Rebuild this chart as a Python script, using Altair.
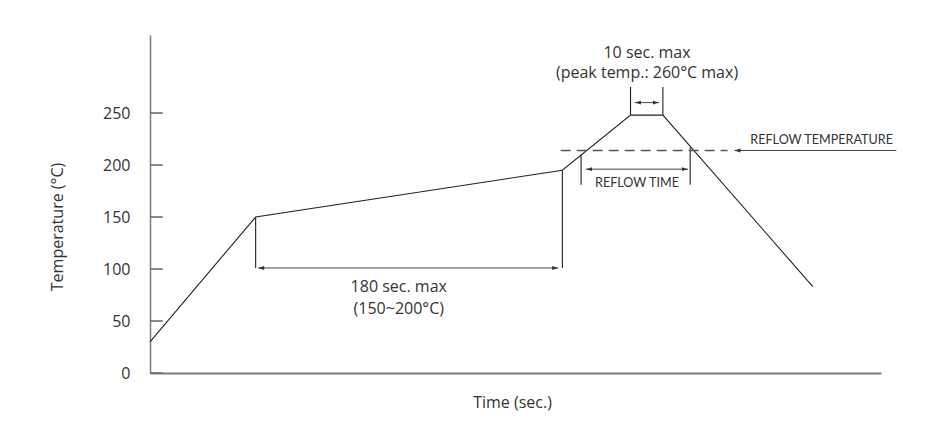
import altair as alt
import pandas as pd

# ---- data ----
profile_time = [0, 62, 242, 282, 301, 389]
profile_temp = [30, 150, 195, 248, 248, 83]

y_tick_values = [0, 50, 100, 150, 200, 250]
tick_start = [0.0] * len(y_tick_values)
tick_end = [7.5] * len(y_tick_values)   # inward ticks (~13 px)

guide_time = [62, 242, 253, 317, 282, 301]
guide_from = [150, 195, 210, 217, 248, 248]
guide_to = [101, 101, 181, 181, 275, 275]

arrow_start = [63.5, 255.9, 284.6]
arrow_end = [239.5, 315.7, 298.7]
arrow_temp = [101, 196, 260]

reflow_temp = 214
reflow_dash_time = [241, 339]
reflow_pointer_time = [438, 343]

main_labels = ["10 sec. max", "(peak temp.: 260°C max)", "180 sec. max", "(150~200°C)"]
main_label_time = [291.7, 291.7, 146, 146]
main_label_temp = [308, 288, 82.5, 62]

small_labels = ["REFLOW TIME", "REFLOW TEMPERATURE"]
small_label_time = [285.8, 436]
small_label_temp = [183, 224]
small_label_align = ["center", "right"]

X_DOMAIN = [0, 429]
Y_DOMAIN = [0, 325]
INK = "#222222"
AXIS = "#7a7a7a"
TEXT = "#333333"
FONT = "Open Sans"

xs = alt.Scale(domain=X_DOMAIN, nice=False, zero=False)
ys = alt.Scale(domain=Y_DOMAIN, nice=False, zero=False)

profile_df = pd.DataFrame({"t": profile_time, "v": profile_temp})
tick_df = pd.DataFrame({"v": y_tick_values, "a": tick_start, "b": tick_end})
arrow_df = pd.DataFrame({"a": arrow_start + [reflow_pointer_time[1]],
                         "b": arrow_end + [reflow_pointer_time[0]],
                         "v": arrow_temp + [reflow_temp]})
guide_df = pd.DataFrame({"t": guide_time, "v0": guide_from, "v1": guide_to})
dash_df = pd.DataFrame({"a": [reflow_dash_time[0]], "b": [reflow_dash_time[1]], "v": [reflow_temp]})
left_heads = pd.DataFrame({"t": arrow_start + [reflow_pointer_time[1]], "v": arrow_temp + [reflow_temp]})
right_heads = pd.DataFrame({"t": arrow_end, "v": arrow_temp})
main_df = pd.DataFrame({"t": main_label_time, "v": main_label_temp, "label": main_labels})
small_df = pd.DataFrame({"t": small_label_time, "v": small_label_temp, "label": small_labels,
                         "align": small_label_align})

base_x = alt.X("t:Q", scale=xs,
               axis=alt.Axis(title="Time (sec.)", labels=False, ticks=False, grid=False,
                             domainColor=AXIS, domainWidth=1.8, titleFont=FONT,
                             titleFontSize=16, titleFontWeight="normal", titleColor=TEXT,
                             titleX=362, titleY=29, titleBaseline="middle", titleAlign="center"))
base_y = alt.Y("v:Q", scale=ys,
               axis=alt.Axis(title="Temperature (°C)", values=y_tick_values, ticks=False,
                             grid=False,
                             domainColor=AXIS, domainWidth=1.5, labelFont=FONT,
                             labelFontSize=16, labelColor=TEXT, labelPadding=20,
                             titleFont=FONT, titleFontSize=16, titleFontWeight="normal",
                             titleColor=TEXT, titleX=-93, titleY=191.5, titleAngle=270,
                             titleBaseline="middle", titleAlign="center"))

profile = alt.Chart(profile_df).mark_line(color=INK, strokeWidth=1.1).encode(x=base_x, y=base_y)

ticks = alt.Chart(tick_df).mark_rule(color="#707070", strokeWidth=1.6).encode(
    x=alt.X("a:Q", scale=xs), x2="b:Q", y=alt.Y("v:Q", scale=ys))

arrows = alt.Chart(arrow_df).mark_rule(color="#444444", strokeWidth=1).encode(
    x=alt.X("a:Q", scale=xs), x2="b:Q", y=alt.Y("v:Q", scale=ys))

guides = alt.Chart(guide_df).mark_rule(color=INK, strokeWidth=1.1).encode(
    x=alt.X("t:Q", scale=xs), y=alt.Y("v0:Q", scale=ys), y2="v1:Q")

dashed = alt.Chart(dash_df).mark_rule(color="#555555", strokeWidth=1.4, strokeDash=[10, 6]).encode(
    x=alt.X("a:Q", scale=xs), x2="b:Q", y=alt.Y("v:Q", scale=ys))

lh = alt.Chart(left_heads).mark_point(shape="M0,0L4,-1.3L4,1.3Z", filled=True, size=9,
                                      color="#333333", opacity=1, strokeWidth=0).encode(
    x=alt.X("t:Q", scale=xs), y=alt.Y("v:Q", scale=ys))
rh = alt.Chart(right_heads).mark_point(shape="M0,0L-4,-1.3L-4,1.3Z", filled=True, size=9,
                                       color="#333333", opacity=1, strokeWidth=0).encode(
    x=alt.X("t:Q", scale=xs), y=alt.Y("v:Q", scale=ys))

main_text = alt.Chart(main_df).mark_text(font=FONT, fontSize=16, color=TEXT,
                                         align="center", baseline="middle").encode(
    x=alt.X("t:Q", scale=xs), y=alt.Y("v:Q", scale=ys), text="label:N")

small_center = alt.Chart(small_df[small_df["align"] == "center"]).mark_text(
    font="Lato", fontSize=12.6, color=TEXT, align="center", baseline="middle").encode(
    x=alt.X("t:Q", scale=xs), y=alt.Y("v:Q", scale=ys), text="label:N")
small_right = alt.Chart(small_df[small_df["align"] == "right"]).mark_text(
    font="Lato", fontSize=12.6, color=TEXT, align="right", baseline="middle").encode(
    x=alt.X("t:Q", scale=xs), y=alt.Y("v:Q", scale=ys), text="label:N")

chart = alt.layer(profile, arrows, guides, dashed, lh, rh, main_text, small_center, small_right,
                  ticks).properties(
    width=731, height=338,
    padding={"left": 142, "top": 27, "right": 43, "bottom": 50},
    autosize=alt.AutoSizeParams(type="none"),
    background="white",
).configure_view(stroke=None)

chart.save("out.html", embed_options={"renderer": "svg", "actions": False})
